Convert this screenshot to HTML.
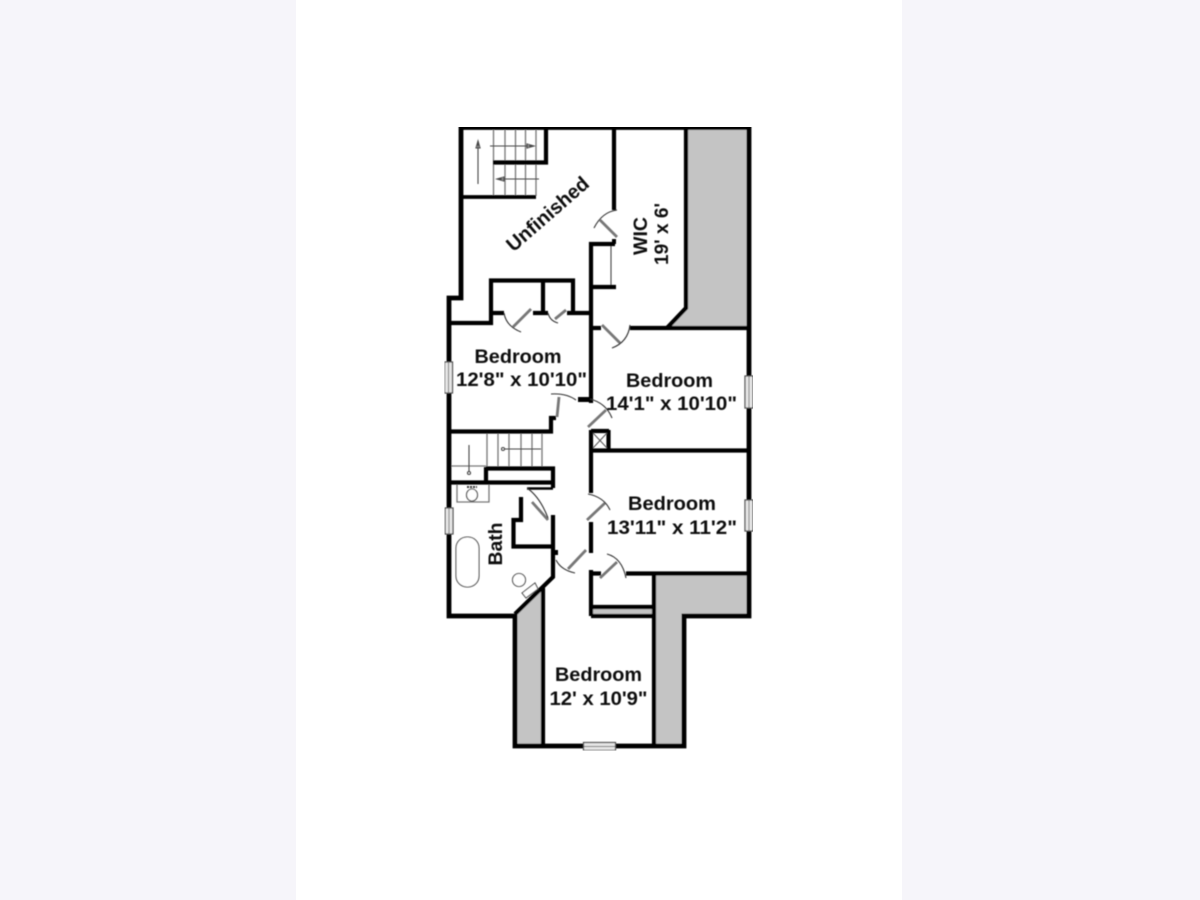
<!DOCTYPE html>
<html><head><meta charset="utf-8"><style>
html,body{margin:0;padding:0;width:1200px;height:900px;overflow:hidden;background:#f6f5fa}
svg{display:block}
text{font-family:"Liberation Sans",sans-serif;font-weight:bold;font-size:19px;fill:#111;text-anchor:middle}
</style></head><body>
<svg width="1200" height="900" viewBox="0 0 1200 900" xmlns="http://www.w3.org/2000/svg">
<defs><filter id="b" x="0" y="0" width="100%" height="100%"><feGaussianBlur stdDeviation="0.45"/></filter></defs>
<rect width="1200" height="900" fill="#f6f5fa"/>
<rect x="296" width="606" height="900" fill="#fff"/>
<g filter="url(#b)">
<!-- gray areas -->
<g fill="#c4c4c4">
<polygon points="687,129 748,129 748,327 668,327 687,308"/>
<polygon points="655,574 748,574 748,615 684,615 684,746 655,746"/>
<rect x="591" y="608" width="64" height="8"/>
<polygon points="515,616 543,588 543,746 515,746"/>
</g>
<!-- thin stair lines -->
<g stroke="#777" stroke-width="1.300" fill="none">
<path d="M493.500 130V196M505 130V196M515.500 130V196M525.500 130V196M536 130V196"/>
<path d="M487 433V467M498 433V467M509 433V467M521 433V467M532 433V467M542 433V467"/>
<path d="M451 466H486"/>
<path d="M457 482V502H489V482"/>
</g>
<!-- stair arrows -->
<g stroke="#444" stroke-width="1.100" fill="none">
<path d="M478 184V142M476 148L478 141L480 148Z"/>
<path d="M490 146H533M527 144L534 146L527 148Z"/>
<path d="M539 179H498M504 177L497 179L504 181Z"/>
<path d="M469 445V472"/><circle cx="469" cy="473" r="1.500"/>
<path d="M541 449H504"/><circle cx="503" cy="449" r="1.500"/>
<path d="M611 244V287"/>
</g>
<!-- walls -->
<g stroke="#050505" stroke-width="4.200" fill="none" stroke-linejoin="miter" stroke-linecap="butt">
<path d="M461 298V127.500H749V616H684V746H515V616H449V298Z" stroke-width="4.800"/>
<path d="M546 127V162.500H493"/>
<path d="M461 197H536" stroke-width="3.800"/>
<path d="M614 127V210"/>
<path d="M615 244H591V403"/>
<path d="M591 287H616"/>
<path d="M686 127V308L667 328"/>
<path d="M630 328H749M591 328H601"/>
<path d="M449 323H491V280.500H573V313"/>
<path d="M543 280V313"/>
<path d="M491 313H504M533 313H548M567 313H591"/>
<path d="M449 431.500H551V418H556"/>
<path d="M578 399.500H590" stroke-width="5"/>
<path d="M591 430V493M591 522V553M591 570V616"/>
<path d="M591 450.500H749"/>
<path d="M608.500 430V450M591 431H609"/>
<path d="M486 467V482M486 468.500H553V488"/>
<path d="M449 482.500H553"/>
<path d="M527 488.500H553" stroke-width="2.500"/>
<path d="M553 515V577L515 614"/>
<path d="M521 497V520H513.500V546.500H553"/>
<path d="M591 573.500H601M626 573.500H749"/>
<path d="M654 573V616M591 607H654"/>
<path d="M591 616H654"/>
<path d="M654 616V746"/>
<path d="M543 588V746"/>
</g>
<rect x="612" y="239" width="4" height="5" fill="#050505"/>
<rect x="553" y="550" width="5" height="5" fill="#050505"/>
<rect x="589" y="390" width="4" height="12" fill="#050505"/>
<!-- x box -->
<path d="M593 433L607 448M607 433L593 448" stroke="#555" stroke-width="1" fill="none"/>
<!-- door leaves -->
<g stroke="#777" stroke-width="2.800" fill="none">
<path d="M600 220L617 237M513 327L531 309M555 319L566 310M602 325L620 343M557 417L559 397M588 427L606 410M587 520L605 503M568 569L586 550M600 578L617 562M532 502L548 520"/>
</g>
<!-- door arcs -->
<g stroke="#333" stroke-width="1.100" fill="none">
<path d="M617 210Q602 212 594 228"/>
<path d="M504 313Q506 326 521 332"/>
<path d="M548 313Q550 321 558 323"/>
<path d="M630 325Q628 342 612 348"/>
<path d="M551 394Q566 393 576 400"/>
<path d="M590 399Q606 403 612 418"/>
<path d="M588 494Q604 497 610 510"/>
<path d="M556 560Q561 570 575 573"/>
<path d="M607 554Q622 558 626 578"/>
<path d="M527 488Q540 497 548 518"/>
</g>
<!-- windows -->
<g fill="#e6e6e6" stroke="#444" stroke-width="1.200">
<rect x="444.500" y="362" width="8" height="31"/>
<rect x="745" y="376" width="8" height="32"/>
<rect x="745" y="500" width="8" height="31"/>
<rect x="445" y="508" width="8" height="26"/>
<rect x="583.500" y="742.500" width="32" height="8"/>
</g>
<path d="M448.500 362V393M749 376V408M749 500V531M449 508V534M584 746.500H615" stroke="#777" stroke-width="1"/>
<!-- fixtures -->
<g stroke="#444" stroke-width="1.100" fill="#fff">
<ellipse cx="472" cy="495" rx="5.500" ry="6"/>
<rect x="456" y="537" width="23" height="50" rx="11" ry="11"/>
<circle cx="519" cy="580" r="6.500"/>
<polygon points="522,593 535,583 538,589 526,598"/>
</g>
<path d="M467 487H477" stroke="#333" stroke-width="2" stroke-dasharray="2 1"/>
<!-- labels -->
<text x="518" y="363" textLength="87" lengthAdjust="spacingAndGlyphs">Bedroom</text>
<text x="521.500" y="386" textLength="131" lengthAdjust="spacingAndGlyphs">12'8" x 10'10"</text>
<text x="669.500" y="387" textLength="87" lengthAdjust="spacingAndGlyphs">Bedroom</text>
<text x="671.500" y="410" textLength="131" lengthAdjust="spacingAndGlyphs">14'1" x 10'10"</text>
<text x="672" y="510" textLength="88" lengthAdjust="spacingAndGlyphs">Bedroom</text>
<text x="672" y="534" textLength="130" lengthAdjust="spacingAndGlyphs">13'11" x 11'2"</text>
<text x="598.500" y="681" textLength="87" lengthAdjust="spacingAndGlyphs">Bedroom</text>
<text x="598.500" y="705" textLength="98" lengthAdjust="spacingAndGlyphs">12' x 10'9"</text>
<text transform="translate(552,219) rotate(-41)" style="font-size:20px" textLength="102" lengthAdjust="spacingAndGlyphs">Unfinished</text>
<text transform="translate(647,236) rotate(-90)" textLength="38" lengthAdjust="spacingAndGlyphs">WIC</text>
<text transform="translate(668,234) rotate(-90)" textLength="62" lengthAdjust="spacingAndGlyphs">19' x 6'</text>
<text transform="translate(502,544) rotate(-90)" textLength="43" lengthAdjust="spacingAndGlyphs">Bath</text>
</g>
</svg>
</body></html>
